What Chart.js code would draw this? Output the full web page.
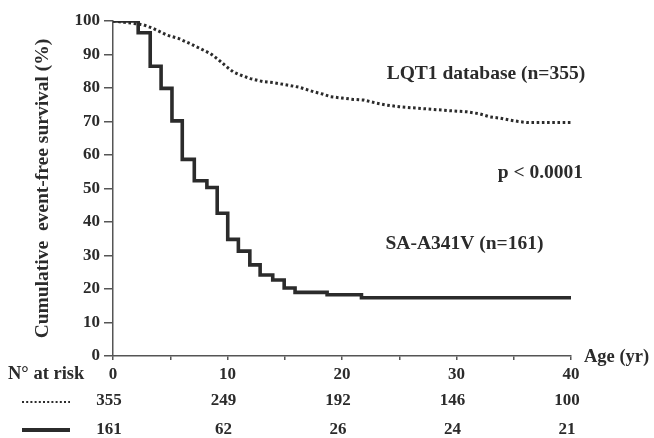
<!DOCTYPE html>
<html>
<head>
<meta charset="utf-8">
<script src="https://cdn.jsdelivr.net/npm/chart.js@4"></script>
<style>
  html, body { margin: 0; padding: 0; background: #fff; }
  #wrap { width: 654px; height: 438px; position: relative; }
</style>
</head>
<body>
<div id="wrap"><canvas id="km"></canvas></div>
<script>
"use strict";
// survival curves (age in years, % event-free)
const lqtAges = [0, 1, 2, 2.7, 3.5, 4.7, 5.7, 6.7, 7.6, 8.5, 9.2, 9.9, 10.5, 11.1, 12, 13.1, 14, 15.2, 16.3, 17.5, 18.3, 19, 20, 21, 21.9, 23, 23.9, 25, 26.5, 28, 29.5, 30.9, 32, 32.9, 33.8, 34.7, 35.4, 36.1, 38, 40];
const lqtSurv = [100, 99.6, 99.2, 98.8, 97.8, 95.8, 94.8, 93.3, 91.8, 90.3, 88.5, 86.4, 84.8, 83.9, 82.8, 81.9, 81.6, 80.9, 80.2, 78.9, 78.2, 77.4, 77, 76.6, 76.4, 75.5, 74.9, 74.4, 74, 73.6, 73.2, 72.9, 72.3, 71.4, 71, 70.4, 70, 69.7, 69.7, 69.7];

const saAges = [0, 2.2, 3.25, 4.2, 5.15, 6.05, 7.1, 8.2, 9.1, 10.02, 10.95, 11.95, 12.85, 13.95, 14.95, 15.9, 18.7, 21.7, 40];
const saSurv = [100, 96.5, 86.5, 79.9, 70.2, 58.7, 52.3, 50.3, 42.6, 34.8, 31.3, 27.2, 24.2, 22.7, 20.3, 19.0, 18.3, 17.4, 17.4];

// numbers at risk
const riskAges = [0, 10, 20, 30, 40];
const riskLqt = [355, 249, 192, 146, 100];
const riskSa = [161, 62, 26, 24, 21];

const ink = "#2b2b2b";
const serif = "'Liberation Serif', 'DejaVu Serif', serif";

function toPoints(xs, ys) {
  return xs.map((x, i) => ({ x: x, y: ys[i] }));
}

const extras = {
  id: "extras",
  afterDraw(chart) {
    const ctx = chart.ctx;
    const xs = chart.scales.x;
    const ys = chart.scales.y;
    ctx.save();
    ctx.fillStyle = ink;
    ctx.textBaseline = "middle";

    // curve labels
    ctx.font = "bold 19.5px " + serif;
    ctx.textAlign = "left";
    ctx.fillText("LQT1 database (n=355)", xs.getPixelForValue(23.9), ys.getPixelForValue(84.2));
    ctx.fillText("SA-A341V (n=161)", xs.getPixelForValue(23.8), ys.getPixelForValue(33.4));
    ctx.textAlign = "right";
    ctx.fillText("p < 0.0001", xs.getPixelForValue(41.05), ys.getPixelForValue(54.6));

    // axis name at the end of x axis
    ctx.textAlign = "left";
    ctx.font = "bold 18.5px " + serif;
    ctx.fillText("Age (yr)", chart.chartArea.right + 13, chart.chartArea.bottom + 1);

    // risk table
    ctx.fillText("N\u00B0 at risk", 8, 374);
    ctx.font = "bold 17px " + serif;
    ctx.textAlign = "center";
    riskAges.forEach((a, i) => {
      let px = xs.getPixelForValue(a);
      ctx.fillText(String(riskLqt[i]), px - 4, 401);
      ctx.fillText(String(riskSa[i]), px - 4, 430);
    });

    // line samples
    ctx.strokeStyle = ink;
    ctx.lineWidth = 2.2;
    ctx.setLineDash([2, 2.2]);
    ctx.beginPath();
    ctx.moveTo(22, 402);
    ctx.lineTo(70, 402);
    ctx.stroke();
    ctx.setLineDash([]);
    ctx.lineWidth = 4;
    ctx.beginPath();
    ctx.moveTo(22, 430);
    ctx.lineTo(70, 430);
    ctx.stroke();
    ctx.restore();
  }
};

const chart = new Chart(document.getElementById("km"), {
  type: "line",
  data: {
    datasets: [
      {
        label: "LQT1 database (n=355)",
        data: toPoints(lqtAges, lqtSurv),
        borderColor: ink,
        borderWidth: 3,
        borderDash: [2.6, 2.6],
        pointRadius: 0,
        tension: 0,
        fill: false
      },
      {
        label: "SA-A341V (n=161)",
        data: toPoints(saAges, saSurv),
        borderColor: ink,
        borderWidth: 3.6,
        stepped: "before",
        pointRadius: 0,
        fill: false
      }
    ]
  },
  options: {
    responsive: true,
    maintainAspectRatio: false,
    animation: false,
    layout: { padding: { left: 27, right: 83, top: 21, bottom: 0 } },
    plugins: {
      legend: { display: false },
      tooltip: { enabled: false }
    },
    scales: {
      x: {
        type: "linear",
        min: 0,
        max: 40,
        afterFit: (scale) => { scale.height = 82; },
        grid: { drawOnChartArea: false, drawTicks: true, tickLength: 4, color: "#555", lineWidth: 1.5 },
        border: { display: true, color: "#555", width: 1.5 },
        ticks: {
          stepSize: 5,
          padding: 4,
          maxRotation: 0,
          color: ink,
          font: { family: serif, size: 17, weight: "bold" },
          callback: (v) => (v % 10 === 0 ? String(v) : "")
        }
      },
      y: {
        min: 0,
        max: 100,
        afterFit: (scale) => { scale.width = 86; },
        grid: { drawOnChartArea: false, drawTicks: true, tickLength: 9, color: "#555", lineWidth: 1.5 },
        border: { display: true, color: "#555", width: 1.5 },
        ticks: {
          stepSize: 10,
          padding: 4,
          color: ink,
          font: { family: serif, size: 17, weight: "bold" }
        },
        title: {
          display: true,
          text: "Cumulative  event-free survival (%)",
          color: ink,
          font: { family: serif, size: 19.5, weight: "bold" },
          padding: { top: 4, bottom: 4 }
        }
      }
    }
  },
  plugins: [extras]
});
</script>
</body>
</html>
